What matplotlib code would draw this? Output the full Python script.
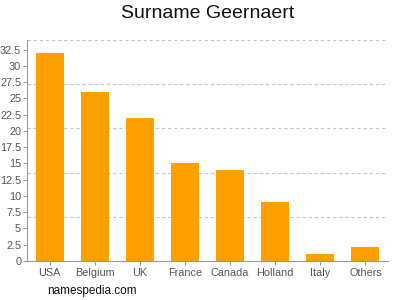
import matplotlib
matplotlib.use("Agg")
import matplotlib.pyplot as plt
import numpy as np

categories = ["USA", "Belgium", "UK", "France", "Canada", "Holland", "Italy", "Others"]
values = [32, 26, 22, 15.1, 14, 9.1, 1.1, 2.1]
yticks = [0, 2.5, 5, 7.5, 10, 12.5, 15, 17.5, 20, 22.5, 25, 27.5, 30, 32.5]
ymax = 34

plt.rcParams['font.family'] = ['Liberation Sans', 'DejaVu Sans']
fig = plt.figure(figsize=(4, 3), dpi=100)
ax = fig.add_axes([0.0675, 0.13, 0.9025, 0.737])
x = np.arange(len(categories))
ax.bar(x, values, width=0.62, color="#FFA000", zorder=2)
ax.set_xlim(-0.5, len(categories) - 0.5)
ax.set_ylim(0, ymax)
ax.set_yticks(yticks)
ax.set_yticklabels([f"{t:g}" for t in yticks])
ax.set_xticks(x)
ax.set_xticklabels(categories)
for g in np.linspace(ymax / 5, ymax, 5):
    ax.axhline(g, color="#c4c4c4", linestyle=(0, (3, 2.5)), linewidth=0.8, zorder=1)
for s in ["top", "right"]:
    ax.spines[s].set_visible(False)
for s in ["left", "bottom"]:
    ax.spines[s].set_color("#999999")
    ax.spines[s].set_linewidth(0.8)
ax.tick_params(axis="y", colors="#999999", length=3, width=0.8, pad=1.2)
ax.tick_params(axis="x", colors="#999999", length=3, width=0.8, pad=2)
for lbl in ax.get_xticklabels() + ax.get_yticklabels():
    lbl.set_color("#555555")
    lbl.set_fontsize(7.8)
fig.text(0.519, 0.955, "Surname Geernaert", ha="center", va="center", fontsize=14, color="#111111")
fig.text(0.117, 0.03, "namespedia.com", ha="left", va="center", fontsize=8.5, color="#111111")
fig.savefig("out.png", dpi=100)
